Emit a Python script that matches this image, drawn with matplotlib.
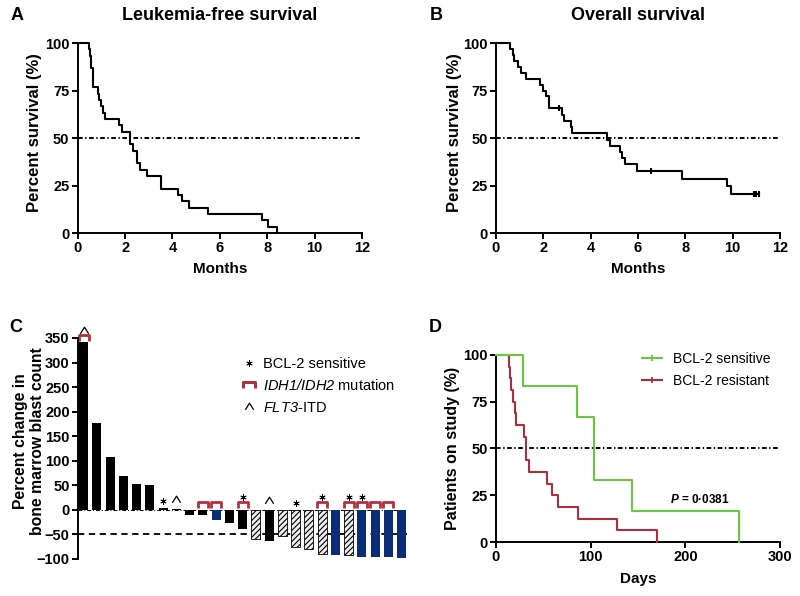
import matplotlib
matplotlib.use('Agg')
import matplotlib.pyplot as plt
from matplotlib.lines import Line2D
from matplotlib.path import Path

plt.rcParams['font.family'] = 'Liberation Sans'
plt.rcParams['font.weight'] = 'bold'
plt.rcParams['mathtext.fontset'] = 'custom'
plt.rcParams['mathtext.rm'] = 'Liberation Sans:normal'
plt.rcParams['mathtext.sf'] = 'Liberation Sans:italic:normal'
plt.rcParams['mathtext.bf'] = 'Liberation Sans:bold:italic'
plt.rcParams['hatch.linewidth'] = 0.8

#A: leukemia-free survival (months, % surviving)
lfs_months = [0, 0.46, 0.5, 0.55, 0.58, 0.66, 0.84, 0.91, 0.98, 1.05, 1.16, 1.76, 1.87,
              2.22, 2.35, 2.5, 2.64, 2.93, 3.52, 4.22, 4.4, 4.71, 5.51, 7.76, 8.04, 8.4]
lfs_pct = [100, 96.7, 93.3, 90, 86.7, 76.7, 73.3, 70, 66.7, 63.3, 60, 56.7, 53.3,
           46.7, 43.3, 36.7, 33.3, 30, 23.3, 20, 16.7, 13.3, 10, 6.7, 3.3, 0]

#B: overall survival
os_months = [0, 0.59, 0.70, 0.76, 0.93, 1.07, 1.25, 1.86, 2.0, 2.1, 2.24, 2.8, 2.87, 3.18,
             3.22, 4.7, 4.82, 5.24, 5.34, 5.44, 5.97, 7.85, 9.75, 9.92, 11.1]
os_pct = [100, 96.9, 93.8, 90.6, 87.5, 84.4, 81.3, 78.1, 75.0, 71.9, 65.6, 62.3, 59.0, 55.7,
          52.5, 49.2, 45.9, 42.6, 39.3, 36.1, 32.8, 28.7, 24.6, 20.5, 20.5]
os_censor_months = [2.66, 6.54, 10.9, 11.0, 11.1]
os_censor_pct = [65.6, 32.8, 20.5, 20.5, 20.5]

#C: percent change in bone marrow blasts, one bar per patient
blast_change = [341, 177, 107, 70, 53, 51, 3, 1.5, -10, -10, -20, -26, -39, -60, -63,
                -54, -75, -80, -90, -92, -91, -96, -96, -96, -97]
bar_group = ['black'] * 10 + ['blue', 'black', 'black', 'hatched', 'black', 'hatched',
                              'hatched', 'hatched', 'hatched', 'blue', 'hatched', 'blue',
                              'blue', 'blue', 'blue']
idh_mut = [1, 0, 0, 0, 0, 0, 0, 0, 0, 1, 1, 0, 1, 0, 0, 0, 0, 0, 1, 0, 1, 1, 1, 1, 0]
bcl2_sens = [0, 0, 0, 0, 0, 0, 1, 0, 0, 0, 0, 0, 1, 0, 0, 0, 1, 0, 1, 0, 1, 1, 0, 0, 0]
flt3_itd = [1, 0, 0, 0, 0, 0, 0, 1, 0, 0, 0, 0, 0, 0, 1, 0, 0, 0, 0, 0, 0, 0, 0, 0, 0]

#D: patients on study by BCL-2 profile (days, %)
sens_days = [0, 29, 86, 104, 144, 257]
sens_pct = [100, 83.3, 66.7, 33.3, 16.7, 0]
res_days = [0, 13.7, 14.8, 16.2, 18.3, 19.7, 20.8, 29.6, 31.7, 35, 54.2, 59.5, 65.8, 86.6, 128, 170]
res_pct = [100, 93.75, 87.5, 81.25, 75, 68.75, 62.5, 56.25, 43.75, 37.5, 31.25, 25, 18.75,
           12.5, 6.25, 0]

green = '#6cc644'
red = '#a8303f'
navy = '#0b2d78'
bracket_red = '#b3303e'
dashdot = (0, (2.4, 1.3, 0.7, 1.3))

#marker shapes
bracket = Path([(-1, -0.55), (-1, 0.55), (1, 0.55), (1, -0.55)],
               [Path.MOVETO, Path.LINETO, Path.LINETO, Path.LINETO])
caret = Path([(-1, -0.8), (0, 0.8), (1, -0.8)], [Path.MOVETO, Path.LINETO, Path.LINETO])


def prism(ax):
    for s in ['top', 'right']:
        ax.spines[s].set_visible(False)
    for s in ['left', 'bottom']:
        ax.spines[s].set_linewidth(1.4)
    ax.tick_params(width=1.4, length=4, labelsize=10.5, pad=2)


fig = plt.figure(figsize=(8, 5.96), dpi=100)
axA = fig.add_axes([0.0971, 0.609, 0.3554, 0.3188])
axB = fig.add_axes([0.62, 0.609, 0.355, 0.3188])
axC = fig.add_axes([0.0975, 0.0621, 0.411, 0.3708])
axD = fig.add_axes([0.62, 0.0906, 0.355, 0.3138])

#A and B
for ax, t, p in [(axA, lfs_months, lfs_pct), (axB, os_months, os_pct)]:
    prism(ax)
    ax.step(t, p, where='post', color='black', lw=1.5, clip_on=False, zorder=3)
    ax.axhline(50, color='black', lw=1.4, ls=dashdot)
    ax.set_xlim(0, 12)
    ax.set_ylim(0, 100)
    ax.set_xticks(range(0, 13, 2))
    ax.set_yticks([0, 25, 50, 75, 100])
axB.plot(os_censor_months, os_censor_pct, ls='none', marker='|', ms=4, mew=1.5, color='black')

#C
prism(axC)
axC.spines['bottom'].set_visible(False)
axC.tick_params(axis='x', bottom=False, labelbottom=False)
for i, v in enumerate(blast_change):
    g = bar_group[i]
    if g == 'hatched':
        axC.bar(i, v, width=0.68, color='#eeeeee', edgecolor='black', lw=0.6, hatch='//////')
    else:
        axC.bar(i, v, width=0.68, color='black' if g == 'black' else navy, lw=0)
axC.axhline(0, color='black', lw=0.7, ls=(0, (4, 2, 1, 2)), zorder=0)
axC.axhline(-50, color='black', lw=1.3, ls=(0, (3.5, 2.5)), zorder=0)
for i, v in enumerate(blast_change):
    base = max(v, 0)
    if idh_mut[i]:
        axC.plot(i, base + 9, marker=bracket, ms=7, mew=2, color=bracket_red,
                 mfc='none', clip_on=False)
    if bcl2_sens[i]:
        axC.plot(i, base + (27 if idh_mut[i] else 15), marker=(6, 2, 0), ms=4.5, mew=0.6,
                 color='black', clip_on=False)
    if flt3_itd[i]:
        axC.plot(i, base + (25 if idh_mut[i] else 20), marker=caret, ms=6, mew=0.9,
                 color='black', mfc='none', clip_on=False)
axC.set_xlim(-0.42, 24.4)
axC.set_ylim(-100, 350)
axC.set_yticks(range(-100, 351, 50))

handlesC = [Line2D([], [], ls='none', marker=(6, 2, 0), ms=4.5, mew=0.6, color='black'),
            Line2D([], [], ls='none', marker=bracket, ms=9, mew=2.2, color=bracket_red, mfc='none'),
            Line2D([], [], ls='none', marker=caret, ms=6, mew=0.9, color='black', mfc='none')]
labelsC = ['BCL-2 sensitive', r'$\mathsf{IDH1/IDH2}$ mutation', r'$\mathsf{FLT3}$-ITD']
fig.legend(handlesC, labelsC, loc='upper left', bbox_to_anchor=(0.3025, 0.401),
           frameon=False, borderpad=0, borderaxespad=0, handlelength=1.0,
           handletextpad=0.45, labelspacing=0.5, prop={'size': 10.5, 'weight': 'normal'})

#D
prism(axD)
axD.step(res_days, res_pct, where='post', color=red, lw=1.5, clip_on=False, zorder=3)
axD.step(sens_days, sens_pct, where='post', color=green, lw=1.5, clip_on=False, zorder=4)
axD.axhline(50, color='black', lw=1.4, ls=dashdot)
axD.set_xlim(0, 300)
axD.set_ylim(0, 100)
axD.set_xticks([0, 100, 200, 300])
axD.set_yticks([0, 25, 50, 75, 100])
axD.text(215, 22.5, r'$\mathbf{P}$ = 0·0381', ha='center', va='center', fontsize=8.5,
         fontweight='bold')
handlesD = [Line2D([], [], color=green, lw=1.5, marker='|', ms=5, mew=1.3),
            Line2D([], [], color=red, lw=1.5, marker='|', ms=5, mew=1.3)]
fig.legend(handlesD, ['BCL-2 sensitive', 'BCL-2 resistant'], loc='upper left',
           bbox_to_anchor=(0.8025, 0.409), frameon=False, borderpad=0, borderaxespad=0,
           handlelength=1.44, handletextpad=0.8, labelspacing=0.55,
           prop={'size': 10, 'weight': 'normal'})

#titles, panel letters, axis labels
H = 596.0
def ft(px, py, s, **kw):
    fig.text(px / 800.0, 1 - py / H, s, ha='center', va='center', fontweight='bold', **kw)

ft(220, 15, 'Leukemia-free survival', fontsize=13)
ft(638, 15, 'Overall survival', fontsize=13)
ft(17, 15, 'A', fontsize=13)
ft(436, 15, 'B', fontsize=13)
ft(16, 328, 'C', fontsize=13)
ft(435, 328, 'D', fontsize=13)
ft(220, 269, 'Months', fontsize=11)
ft(638, 269, 'Months', fontsize=11)
ft(638, 579, 'Days', fontsize=11)
ft(35, 133, 'Percent survival (%)', fontsize=12, rotation=90)
ft(455, 133, 'Percent survival (%)', fontsize=12, rotation=90)
ft(29, 441, 'Percent change in\nbone marrow blast count', fontsize=11.3, rotation=90,
   linespacing=1.15)
ft(453, 448, 'Patients on study (%)', fontsize=11.5, rotation=90)

fig.savefig('out.png', dpi=100)
